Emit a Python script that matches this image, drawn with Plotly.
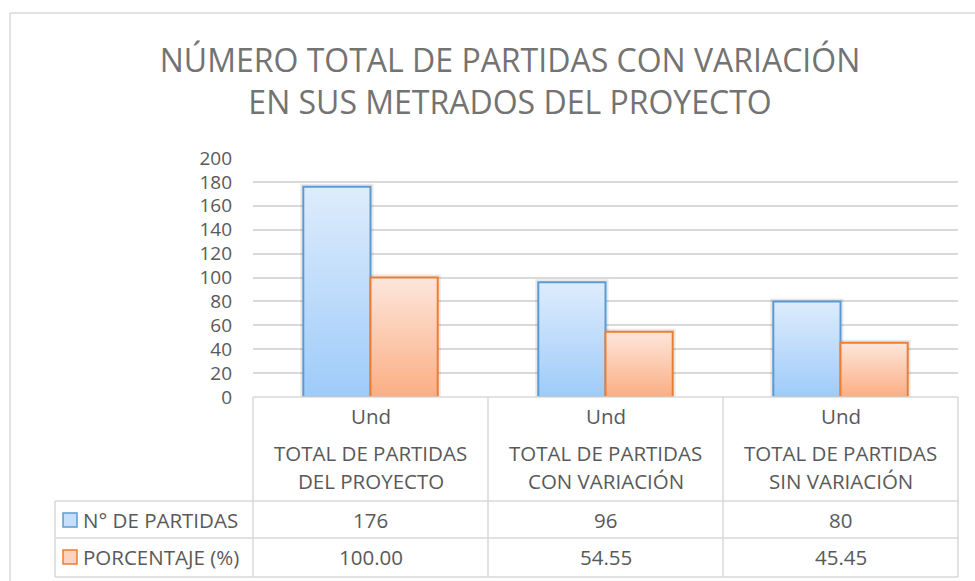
import plotly.graph_objects as go

# Data
category_lines = [
    ["TOTAL DE PARTIDAS", "DEL PROYECTO"],
    ["TOTAL DE PARTIDAS", "CON VARIACIÓN"],
    ["TOTAL DE PARTIDAS", "SIN VARIACIÓN"],
]
unit_label = "Und"
series_names = ["N° DE PARTIDAS", "PORCENTAJE (%)"]
n_partidas = [176, 96, 80]
porcentaje = [100.00, 54.55, 45.45]
y_ticks = list(range(0, 201, 20))

title_text = "NÚMERO TOTAL DE PARTIDAS CON VARIACIÓN<br>EN SUS METRADOS DEL PROYECTO"

# Canvas geometry (pixels)
W, H = 975, 581
PLOT_L, PLOT_R = 253, 958
PLOT_T, PLOT_B = 158, 397
ROW_HEAD_B, ROW1_B, ROW2_B = 501, 538, 577
LEGEND_L = 55
BAR_W = 0.286

TEXT = "#595959"
GRID = "#D9D9D9"
FONT = "Open Sans"

blue_line, blue_top, blue_bot = "#5B9BD5", "#DEECFC", "#9ECBF9"
orange_line, orange_top, orange_bot = "#ED7D31", "#FDE6DB", "#FBAE83"


def px(x):
    return x / W


def py(y):
    return 1 - y / H


fig = go.Figure()

series = [
    (n_partidas, -BAR_W, 0.0, blue_line, blue_top, blue_bot),
    (porcentaje, 0.0, BAR_W, orange_line, orange_top, orange_bot),
]

# soft shadow under each bar
for values, x0, x1, *_ in series:
    for i, v in enumerate(values):
        fig.add_trace(go.Scatter(
            x=[i + x0, i + x0, i + x1, i + x1], y=[0, v, v, 0],
            mode="lines", line=dict(color="rgba(0,0,0,0.09)", width=6),
            hoverinfo="skip", showlegend=False,
        ))

# gradient-filled bars
for (values, x0, x1, lc, top, bot), name in zip(series, series_names):
    for i, v in enumerate(values):
        fig.add_trace(go.Scatter(
            x=[i + x0, i + x0, i + x1, i + x1, i + x0],
            y=[0, v, v, 0, 0],
            mode="lines", fill="toself",
            fillgradient=dict(type="vertical", colorscale=[[0, bot], [1, top]]),
            line=dict(color=lc, width=2),
            name=name, showlegend=False,
            hovertemplate=f"{name}: {v}<extra></extra>",
        ))

shapes = []
annotations = []


def hline(y, x0, x1):
    shapes.append(dict(type="line", xref="paper", yref="paper",
                       x0=px(x0), x1=px(x1), y0=py(y), y1=py(y),
                       line=dict(color=GRID, width=1.5)))


def vline(x, y0, y1):
    shapes.append(dict(type="line", xref="paper", yref="paper",
                       x0=px(x), x1=px(x), y0=py(y0), y1=py(y1),
                       line=dict(color=GRID, width=1.5)))


# outer chart frame (top and left edges fall inside the canvas)
hline(13, 10, W)
vline(10, 13, H)

# data table grid
col_edges = [PLOT_L, 488, 723, PLOT_R]
hline(PLOT_B, PLOT_L, PLOT_R)
for y in (ROW_HEAD_B, ROW1_B, ROW2_B):
    hline(y, LEGEND_L, PLOT_R)
for x in col_edges:
    vline(x, PLOT_B, ROW2_B)
vline(LEGEND_L, ROW_HEAD_B, ROW2_B)

tfont = dict(family=FONT, size=20.5, color=TEXT)


def note(x, y, text, anchor="center"):
    annotations.append(dict(x=px(x), y=py(y), text=text, showarrow=False,
                            xref="paper", yref="paper", xanchor=anchor,
                            yanchor="middle", font=tfont))


for i, lines in enumerate(category_lines):
    cx = (col_edges[i] + col_edges[i + 1]) / 2
    note(cx, 416, unit_label)
    note(cx, 453, lines[0])
    note(cx, 481, lines[1])
    note(cx, 520, f"{n_partidas[i]}")
    note(cx, 557, f"{porcentaje[i]:.2f}")

# legend keys in the table
for name, yc, lc, fc in [(series_names[0], 520, blue_line, "#C6E0FB"),
                         (series_names[1], 557, orange_line, "#FCD3BE")]:
    shapes.append(dict(type="rect", xref="paper", yref="paper",
                       x0=px(63), x1=px(77), y0=py(yc + 7), y1=py(yc - 7),
                       line=dict(color=lc, width=1.5), fillcolor=fc))
    note(81, yc, name, anchor="left")

fig.update_layout(
    width=W, height=H,
    margin=dict(l=0, r=0, t=0, b=0),
    paper_bgcolor="white", plot_bgcolor="white",
    title=dict(text=title_text, x=px(510), xanchor="center",
               y=py(72), yanchor="middle",
               font=dict(family=FONT, size=32, color="#737373")),
    xaxis=dict(domain=[px(PLOT_L), px(PLOT_R)], range=[-0.5, 2.5],
               showgrid=False, zeroline=False, showticklabels=False, showline=False,
               automargin=False),
    yaxis=dict(domain=[py(PLOT_B), py(PLOT_T)], range=[0, 200],
               tickvals=y_ticks, showgrid=True, gridcolor=GRID, gridwidth=1.5,
               zeroline=False, showline=False, ticks="",
               ticklabelstandoff=20, automargin=False,
               tickfont=dict(family=FONT, size=19, color=TEXT)),
    shapes=shapes,
    annotations=annotations,
    showlegend=False,
)

fig.write_html("out.html")
